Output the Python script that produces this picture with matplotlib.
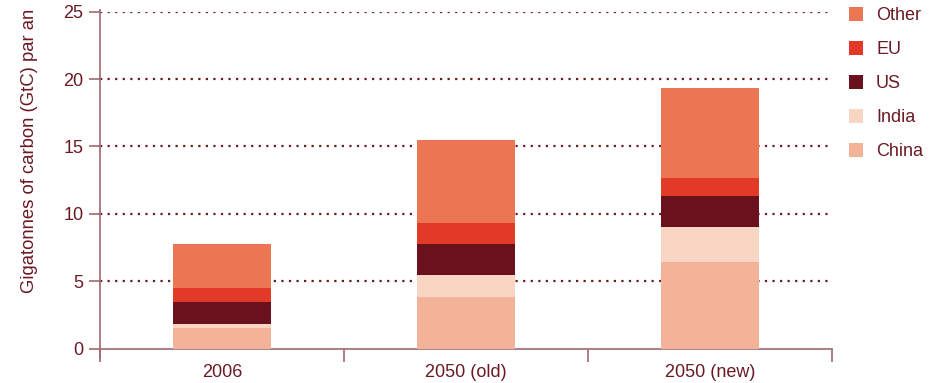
import matplotlib
matplotlib.use("Agg")
import matplotlib.pyplot as plt
from matplotlib.patches import Patch
from matplotlib.lines import Line2D

plt.rcParams['font.family'] = ['Liberation Sans', 'DejaVu Sans']

categories = ["2006", "2050 (old)", "2050 (new)"]
series = ["China", "India", "US", "EU", "Other"]
china = [1.5, 3.8, 6.4]
india = [0.3, 1.7, 2.6]
us = [1.7, 2.3, 2.3]
eu = [1.0, 1.5, 1.35]
other = [3.25, 6.2, 6.7]
values = [china, india, us, eu, other]
colors = ["#F3B398", "#F9D5C4", "#69111C", "#E33A28", "#EC7654"]
yticks = [0, 5, 10, 15, 20, 25]

TEXT = "#6B1A24"
GRID = "#6B1A24"
AXIS = "#A06A70"

W, H = 944, 383
fig = plt.figure(figsize=(W / 100, H / 100), dpi=100)
ax = fig.add_axes([100 / W, 1 - 348.7 / H, (832 - 100) / W, (348.7 - 11.7) / H])

x = list(range(len(categories)))
bottom = [0.0] * len(categories)
for name, vals, col in zip(series, values, colors):
    ax.bar(x, vals, width=0.4, bottom=bottom, color=col, label=name, zorder=3, linewidth=0)
    bottom = [b + v for b, v in zip(bottom, vals)]

ax.set_xlim(-0.5, len(categories) - 0.5)
ax.set_ylim(0, 25)

# dotted horizontal guides
for yv in yticks[1:]:
    ax.axhline(yv, color=GRID, linewidth=1.6, linestyle=(0, (1.0, 2.4)), zorder=1)

for s in ["top", "right", "left"]:
    ax.spines[s].set_visible(False)
ax.spines["bottom"].set_color(AXIS)
ax.spines["bottom"].set_linewidth(1.2)

# left axis line, running slightly below the baseline
ax.add_line(Line2D([0, 0], [-9 / 337, 1.005], transform=ax.transAxes, color=AXIS,
                   linewidth=1.2, clip_on=False, zorder=4))

ax.set_yticks(yticks)
ax.set_yticklabels([str(v) for v in yticks])
ax.tick_params(axis="y", length=8, width=1.2, color=AXIS, labelcolor=TEXT, labelsize=13, pad=4)

# bottom ticks at category boundaries, labels at centres
ax.set_xticks([i - 0.5 for i in range(len(categories) + 1)])
ax.set_xticklabels([])
ax.tick_params(axis="x", which="major", length=9, width=1.2, color=AXIS)
ax.set_xticks(x, minor=True)
ax.set_xticklabels(categories, minor=True)
ax.tick_params(axis="x", which="minor", length=0, labelcolor=TEXT, labelsize=13, pad=11)

fig.text(30 / W, 1 - 151 / H, "Gigatonnes of carbon (GtC) par an", rotation=90,
         ha="center", va="center", color=TEXT, fontsize=13.3)

handles = [Patch(facecolor=c, edgecolor="none") for c in colors][::-1]
labels = series[::-1]
fig.legend(handles, labels, loc="upper left", bbox_to_anchor=(849 / W, 1 - 7 / H),
           frameon=False, fontsize=13, labelcolor=TEXT, handlelength=0.8,
           handleheight=0.8, handletextpad=0.7, labelspacing=0.93,
           borderpad=0, borderaxespad=0)

fig.savefig("out.png", dpi=100)
